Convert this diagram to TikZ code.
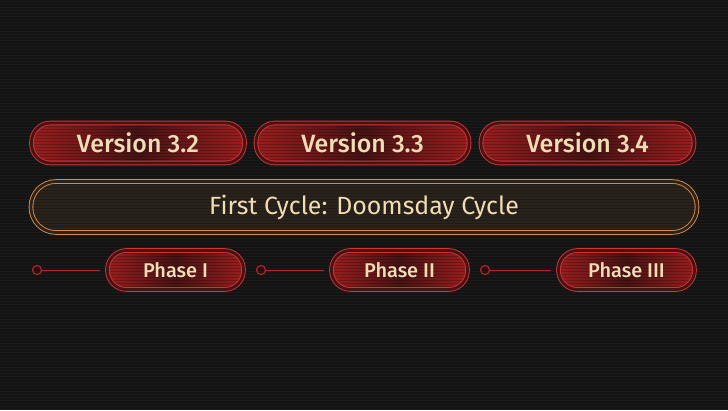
\documentclass[tikz,border=0pt]{standalone}
\usepackage{fontspec}
\setmainfont{Fira Sans}[BoldFont={Fira Sans Medium}]
\usetikzlibrary{positioning}
\definecolor{bgdark}{HTML}{131313}
\definecolor{scanline}{HTML}{1B1B1B}
\definecolor{boxred}{HTML}{D23434}
\definecolor{redfill}{HTML}{9A1E1E}
\definecolor{reddeep}{HTML}{451313}
\definecolor{cycleline}{HTML}{D98A4A}
\definecolor{cyclefill}{HTML}{2A231B}
\definecolor{cream}{HTML}{F0DDB6}
\definecolor{linkred}{HTML}{B42828}

\tikzset{
  stripes/.style={path picture={
    \foreach \s in {0,3,...,60}
      \draw[black, opacity=0.22, line width=1bp]
        ([yshift=-\s bp]path picture bounding box.north west) --
        ([yshift=-\s bp]path picture bounding box.north east);}},
  redbox/.style={draw=boxred, line width=0.9bp, double=reddeep, double distance=2.8bp,
    left color=redfill, right color=redfill, middle color=reddeep, stripes,
    rounded corners=19bp, text=cream, inner sep=0pt},
  verbox/.style={redbox, minimum width=213bp, minimum height=40bp,
    font=\fontsize{25}{29}\bfseries},
  phasebox/.style={redbox, minimum width=136bp, minimum height=39bp,
    font=\fontsize{20}{24}\bfseries},
  cyclebox/.style={draw=cycleline, line width=0.9bp, double=cyclefill, double distance=2.8bp,
    fill=cyclefill, stripes, rounded corners=25bp, minimum width=666bp, minimum height=51bp,
    text=cream, inner sep=0pt, font=\fontsize{25}{29}\selectfont},
  dot/.style={circle, draw=linkred, line width=1.1bp, minimum size=9bp, inner sep=0pt},
  link/.style={draw=linkred, line width=1bp, shorten >=7bp}
}

\begin{document}
\begin{tikzpicture}[x=1bp,y=-1bp]
% background with scanlines
\fill[bgdark] (0,0) rectangle (728,410);
\useasboundingbox (0,0) rectangle (728,410);
\foreach \y in {1,4,...,410}
  \draw[scanline, line width=1bp] (0,\y) -- (728,\y);

% versions
\node[verbox] (v32) at (138,143) {Version 3.2};
\node[verbox] (v33) at (362.5,143) {Version 3.3};
\node[verbox] (v34) at (587.5,143) {Version 3.4};

% cycle
\node[cyclebox] (cycle) at (364,207) {First Cycle: Doomsday Cycle};

% phases
\node[phasebox] (p1) at (175.5,270) {Phase I};
\node[phasebox] (p2) at (399.5,270) {Phase II};
\node[phasebox] (p3) at (626.5,270) {Phase III};

\node[dot] (d1) at (37,270) {};
\node[dot] (d2) at (261,270) {};
\node[dot] (d3) at (485,270) {};

\draw[link] (d1) -- (p1);
\draw[link] (d2) -- (p2);
\draw[link] (d3) -- (p3);
\end{tikzpicture}
\end{document}
